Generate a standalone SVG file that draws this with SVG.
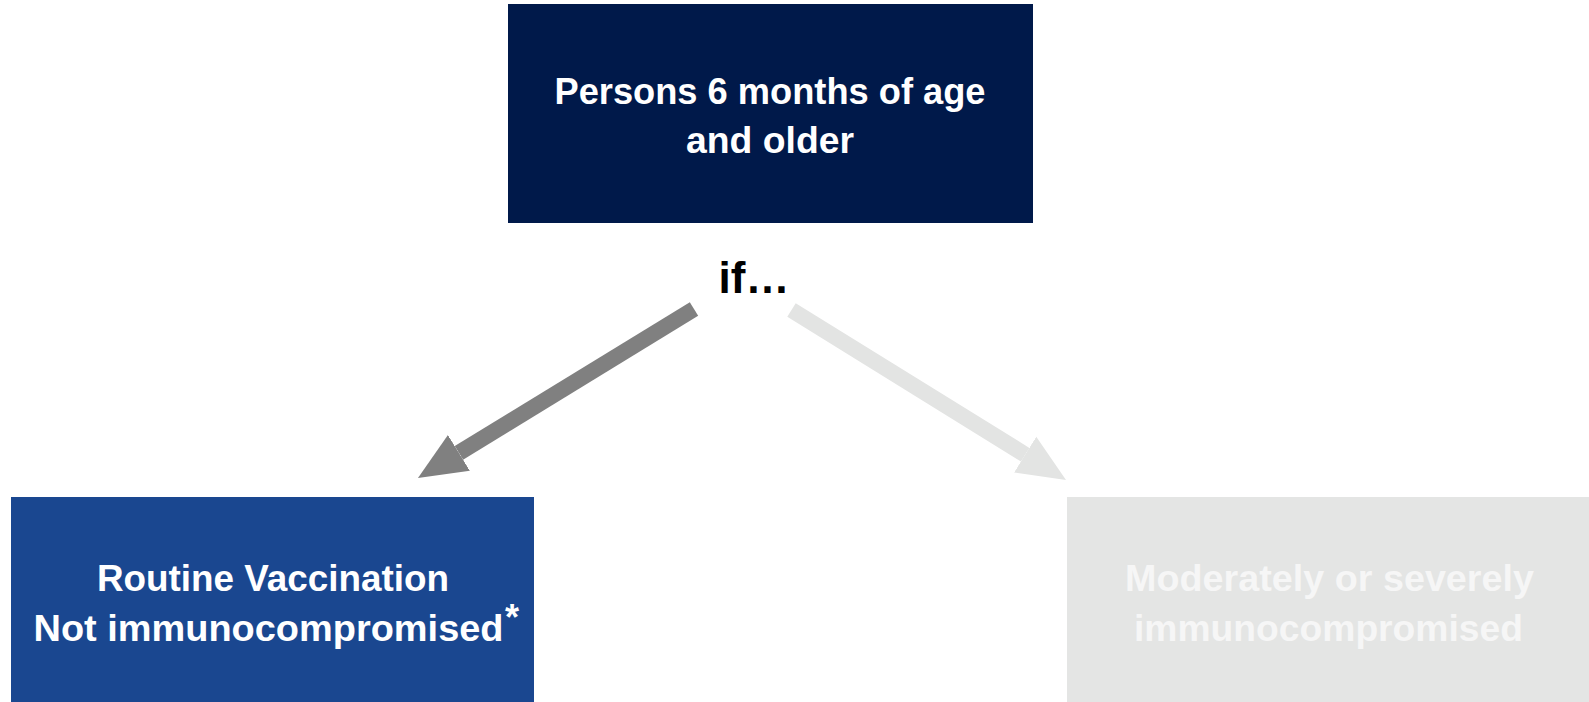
<svg xmlns="http://www.w3.org/2000/svg" width="1589" height="702" viewBox="0 0 1589 702">
<style>
.t{font-family:"Liberation Sans",Arial,sans-serif;font-weight:bold;font-size:36px;fill:#FFFFFF}
.tl{fill:#F6F6F6}
.if{font-family:"Liberation Sans",Arial,sans-serif;font-weight:bold;font-size:44px;fill:#000000}
</style>
<defs>
<marker id="headDark" markerUnits="userSpaceOnUse" markerWidth="50" markerHeight="44" refX="0" refY="22" orient="auto" viewBox="0 0 50 44">
<path d="M0,1 L48,22 L0,43 Z" fill="#808080"/>
</marker>
<marker id="headLight" markerUnits="userSpaceOnUse" markerWidth="50" markerHeight="44" refX="0" refY="22" orient="auto" viewBox="0 0 50 44">
<path d="M0,1 L48,22 L0,43 Z" fill="#E3E4E3"/>
</marker>
</defs>
<rect width="1589" height="702" fill="#FFFFFF"/>
<g id="connectors">
<line x1="694" y1="309" x2="458.9" y2="452.9" stroke="#808080" stroke-width="16" marker-end="url(#headDark)"/>
<line x1="791.5" y1="310" x2="1025.2" y2="454.7" stroke="#E3E4E3" stroke-width="16" marker-end="url(#headLight)"/>
</g>
<g id="node-top">
<rect x="508" y="4" width="525" height="219" fill="#00194A"/>
<text class="t" x="770" y="104" text-anchor="middle" textLength="431" lengthAdjust="spacingAndGlyphs">Persons 6 months of age</text>
<text class="t" x="770" y="153" text-anchor="middle" textLength="168" lengthAdjust="spacingAndGlyphs">and older</text>
</g>
<g id="label-if">
<text class="if" x="754" y="293" text-anchor="middle">if…</text>
</g>
<g id="node-routine">
<rect x="11" y="497" width="523" height="205" fill="#1A4790"/>
<text class="t" x="273" y="591" text-anchor="middle" textLength="352" lengthAdjust="spacingAndGlyphs">Routine Vaccination</text>
<text class="t" x="33.5" y="641" textLength="470" lengthAdjust="spacingAndGlyphs">Not immunocompromised</text>
<text class="t" x="505" y="630" font-size="20">*</text>
</g>
<g id="node-immuno">
<rect x="1067" y="497" width="522" height="205" fill="#E4E5E4"/>
<text class="t tl" x="1329.5" y="591" text-anchor="middle" textLength="409" lengthAdjust="spacingAndGlyphs">Moderately or severely</text>
<text class="t tl" x="1328.5" y="641" text-anchor="middle" textLength="389" lengthAdjust="spacingAndGlyphs">immunocompromised</text>
</g>
</svg>
